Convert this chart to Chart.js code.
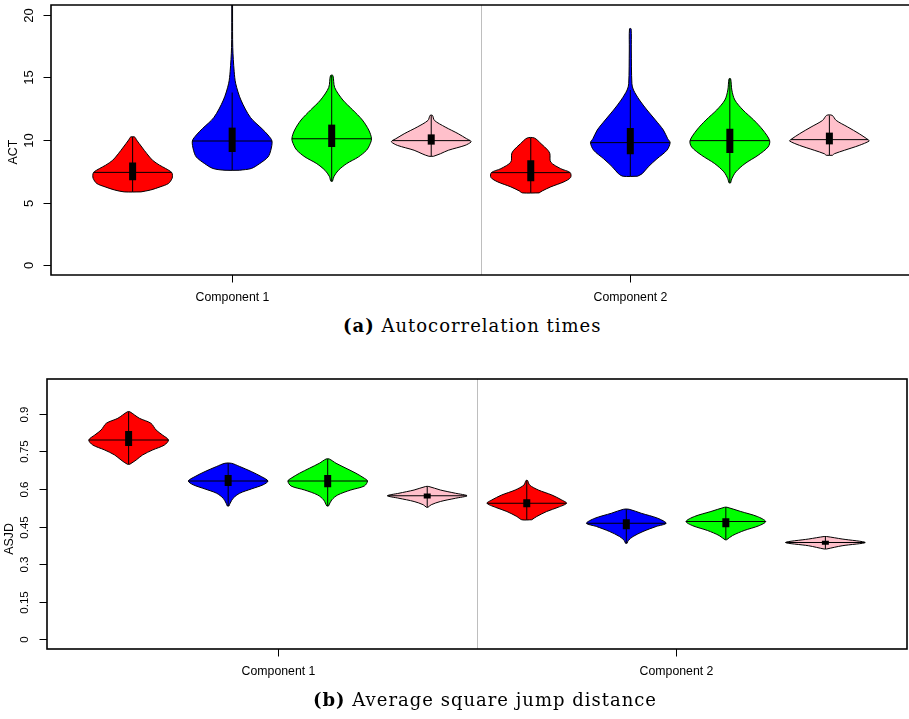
<!DOCTYPE html>
<html>
<head>
<meta charset="utf-8">
<script src="https://cdn.jsdelivr.net/npm/chart.js@4.4.1/dist/chart.umd.min.js"></script>
<style>
    html, body { margin: 0; background: #fff; overflow: hidden; }
    #page { position: relative; width: 909px; height: 719px; overflow: hidden; }
    canvas { position: absolute; left: 0; }
    #actChart { top: 0; }
    #asjdChart { top: 360px; }
    .caption { position: absolute; font-family: 'DejaVu Serif', serif; font-size: 18px; letter-spacing: 1px; color: #000; white-space: nowrap; line-height: 22px; }
    .caption b { font-weight: bold; }
</style>
</head>
<body>
<div id="page">
<canvas id="actChart" width="912" height="305"></canvas>
<canvas id="asjdChart" width="909" height="340"></canvas>
<div class="caption" style="left:343px;top:315px"><b>(a)</b> Autocorrelation times</div>
<div class="caption" style="left:313px;top:689px"><b>(b)</b> Average square jump distance</div>
</div>

<script>
// Pozycje skrzypiec i kolory (4 metody x 2 komponenty)
const violinAt = [1, 2, 3, 4, 5, 6, 7, 8];
const violinColors = ['#ff0000', '#0000ff', '#00ff00', '#ffc0cb'];
const groupLabels = ['Component 1', 'Component 2'];
const groupSplit = 4.5;

// ACT - czasy autokorelacji
const actTicks = [0, 5, 10, 15, 20];
const actGroupAt = [2, 6];
const actMedian = [7.41, 9.92, 10.1, 9.95, 7.39, 9.79, 9.95, 10.03];
const actQ1 = [6.78, 9.04, 9.44, 9.63, 6.7, 8.86, 8.96, 9.65];
const actQ3 = [8.2, 10.99, 11.23, 10.45, 8.38, 10.96, 10.9, 10.59];
const actLow = [5.85, 7.58, 6.7, 8.7, 5.77, 7.1, 6.57, 8.78];
const actHigh = [10.24, 13.8, 15.16, 11.97, 10.16, 14.0, 14.9, 11.97];
const actLevels = [
    [5.85, 6.0, 6.25, 6.52, 6.92, 7.18, 7.41, 7.72, 7.98, 8.38, 8.9, 9.44, 10.0, 10.24],
    [7.58, 7.72, 8.11, 8.64, 9.18, 9.92, 10.4, 10.9, 11.8, 13.2, 14.5, 15.5, 17.4, 20, 22],
    [6.7, 7.1, 7.58, 8.11, 8.64, 9.18, 9.58, 10.1, 10.8, 11.6, 12.4, 13.2, 14.2, 15.16],
    [8.7, 8.9, 9.18, 9.57, 9.84, 9.95, 10.1, 10.5, 11.04, 11.57, 11.97],
    [5.77, 5.93, 6.25, 6.65, 7.0, 7.39, 7.71, 8.24, 8.9, 9.18, 9.7, 10.16],
    [7.1, 7.31, 7.85, 8.5, 9.18, 9.79, 10.1, 10.8, 11.6, 12.4, 13.2, 14.0, 14.5, 17.2, 18.9],
    [6.57, 6.9, 7.45, 8.11, 8.78, 9.44, 9.95, 10.8, 11.6, 12.4, 13.2, 14.0, 14.9],
    [8.78, 8.9, 9.18, 9.57, 9.92, 10.03, 10.1, 10.5, 11.04, 11.57, 11.97]
];
const actDensity = [
    [0.21, 0.45, 0.69, 0.9, 0.99, 1.0, 0.98, 0.83, 0.68, 0.5, 0.36, 0.23, 0.1, 0.05],
    [0.18, 0.48, 0.69, 0.9, 0.97, 1.0, 0.9, 0.75, 0.46, 0.22, 0.09, 0.05, 0.015, 0.01, 0.008],
    [0.02, 0.06, 0.17, 0.375, 0.67, 0.875, 0.95, 1.0, 0.93, 0.77, 0.53, 0.28, 0.075, 0.03],
    [0.06, 0.23, 0.43, 0.85, 1.0, 0.98, 0.89, 0.68, 0.35, 0.08, 0.03],
    [0.21, 0.29, 0.5, 0.83, 1.0, 0.99, 0.75, 0.5, 0.48, 0.43, 0.26, 0.09],
    [0.18, 0.3, 0.45, 0.67, 0.92, 1.0, 0.94, 0.83, 0.63, 0.42, 0.23, 0.08, 0.04, 0.025, 0.02],
    [0.02, 0.05, 0.15, 0.38, 0.71, 0.96, 1.0, 0.83, 0.6, 0.33, 0.125, 0.05, 0.02],
    [0.08, 0.125, 0.38, 0.75, 1.0, 0.97, 0.94, 0.75, 0.46, 0.17, 0.07]
];

// ASJD - średnia kwadratowa odległość skoku
const asjdTicks = [0, 0.15, 0.3, 0.45, 0.6, 0.75, 0.9];
const asjdGroupAt = [2.5, 6.5];
const asjdMedian = [0.796, 0.632, 0.632, 0.573, 0.543, 0.463, 0.47, 0.386];
const asjdQ1 = [0.772, 0.612, 0.607, 0.562, 0.527, 0.439, 0.447, 0.377];
const asjdQ3 = [0.832, 0.656, 0.656, 0.582, 0.559, 0.479, 0.483, 0.393];
const asjdLow = [0.699, 0.532, 0.532, 0.527, 0.477, 0.383, 0.397, 0.36];
const asjdHigh = [0.909, 0.703, 0.72, 0.61, 0.634, 0.519, 0.527, 0.41];
const asjdLevels = [
    [0.699, 0.716, 0.736, 0.756, 0.776, 0.796, 0.816, 0.836, 0.863, 0.883, 0.909],
    [0.532, 0.543, 0.563, 0.583, 0.6, 0.617, 0.632, 0.65, 0.67, 0.69, 0.703],
    [0.532, 0.556, 0.576, 0.596, 0.612, 0.632, 0.643, 0.663, 0.683, 0.703, 0.72],
    [0.527, 0.537, 0.55, 0.563, 0.573, 0.583, 0.596, 0.61],
    [0.477, 0.49, 0.51, 0.527, 0.543, 0.556, 0.576, 0.596, 0.616, 0.634],
    [0.383, 0.394, 0.41, 0.43, 0.45, 0.463, 0.483, 0.503, 0.519],
    [0.397, 0.414, 0.434, 0.453, 0.47, 0.49, 0.51, 0.527],
    [0.36, 0.373, 0.386, 0.4, 0.41]
];
const asjdDensity = [
    [0.03, 0.19, 0.35, 0.6, 0.9, 1.0, 0.85, 0.69, 0.56, 0.27, 0.03],
    [0.02, 0.05, 0.125, 0.29, 0.58, 0.88, 1.0, 0.83, 0.58, 0.29, 0.08],
    [0.02, 0.1, 0.25, 0.58, 0.92, 1.0, 0.92, 0.71, 0.46, 0.21, 0.04],
    [0.02, 0.1, 0.33, 0.71, 1.0, 0.71, 0.33, 0.04],
    [0.125, 0.25, 0.5, 0.79, 1.0, 0.88, 0.63, 0.29, 0.07, 0.02],
    [0.02, 0.05, 0.17, 0.42, 0.75, 1.0, 0.79, 0.375, 0.07],
    [0.02, 0.17, 0.46, 0.83, 1.0, 0.79, 0.375, 0.03],
    [0.03, 0.42, 1.0, 0.42, 0.03]
];

const HALF = 0.4;   // pół szerokości skrzypiec w jednostkach osi x

Chart.defaults.font.family = "'Liberation Sans', Arial, sans-serif";

// szerokość profilu na danej wysokości (do linii mediany)
function widthAt(levels, dens, v) {
    for (let k = 1; k < levels.length; k++) {
        if (v <= levels[k]) {
            const t = (v - levels[k - 1]) / (levels[k] - levels[k - 1]);
            return dens[k - 1] + t * (dens[k] - dens[k - 1]);
        }
    }
    return dens[dens.length - 1];
}

function buildDatasets(levels, density, median, q1, q3, low, high) {
    const sets = [];
    violinAt.forEach((pos, i) => {
        const lv = levels[i], dn = density[i];
        const right = lv.map((v, k) => ({ x: pos + HALF * dn[k], y: v }));
        const left = lv.map((v, k) => ({ x: pos - HALF * dn[k], y: v })).reverse();
        const outline = right.concat(left, [right[0]]);
        sets.push({
            data: outline, borderColor: '#000', borderWidth: 1,
            backgroundColor: violinColors[i % 4], fill: 'shape',
            tension: 0.3, pointRadius: 0, order: 3
        });
        const w = HALF * widthAt(lv, dn, median[i]);
        sets.push({
            data: [{ x: pos - w, y: median[i] }, { x: pos + w, y: median[i] }],
            borderColor: '#000', borderWidth: 1, pointRadius: 0, fill: false, order: 2
        });
        sets.push({
            data: [{ x: pos, y: low[i] }, { x: pos, y: high[i] }],
            borderColor: '#000', borderWidth: 1, pointRadius: 0, fill: false, order: 1
        });
        sets.push({
            data: [{ x: pos, y: q1[i] }, { x: pos, y: q3[i] }],
            borderColor: '#000', borderWidth: 7, borderCapStyle: 'butt',
            pointRadius: 0, fill: false, order: 0
        });
    });
    return sets;
}

// ramka, osie i podpisy w stylu R
const frame = {
    id: 'frame',
    beforeDatasetsDraw(chart, args, o) {
        const { ctx, chartArea: a, scales } = chart;
        const xs = Math.round(scales.x.getPixelForValue(groupSplit)) + 0.5;
        ctx.save();
        ctx.strokeStyle = '#bebebe';
        ctx.lineWidth = 1;
        ctx.beginPath();
        ctx.moveTo(xs, a.top);
        ctx.lineTo(xs, a.bottom);
        ctx.stroke();
        ctx.restore();
    },
    afterDraw(chart, args, o) {
        const { ctx, chartArea: a, scales } = chart;
        ctx.save();
        ctx.strokeStyle = '#000';
        ctx.fillStyle = '#000';
        ctx.lineWidth = 1.6;
        if (o.openRight) {
            // prawa krawędź wychodzi poza okno - bez pionowej linii
            ctx.beginPath();
            ctx.moveTo(a.right + 20, a.top);
            ctx.lineTo(a.left, a.top);
            ctx.lineTo(a.left, a.bottom);
            ctx.lineTo(a.right + 20, a.bottom);
            ctx.stroke();
        } else {
            ctx.strokeRect(a.left, a.top, a.right - a.left, a.bottom - a.top);
        }

        ctx.lineWidth = 1;
        ctx.font = o.tickFont + "px 'Liberation Sans', Arial, sans-serif";
        ctx.textAlign = 'center';
        ctx.textBaseline = 'middle';
        o.ticks.forEach(t => {
            const y = Math.round(scales.y.getPixelForValue(t)) + 0.5;
            ctx.beginPath();
            ctx.moveTo(a.left - 7.5, y);
            ctx.lineTo(a.left, y);
            ctx.stroke();
            ctx.save();
            ctx.translate(a.left - 22, y);
            ctx.rotate(-Math.PI / 2);
            ctx.fillText(String(t), 0, 0);
            ctx.restore();
        });

        ctx.font = "12.3px 'Liberation Sans', Arial, sans-serif";
        o.groupAt.forEach((g, k) => {
            const x = Math.round(scales.x.getPixelForValue(g)) + 0.5;
            ctx.beginPath();
            ctx.moveTo(x, a.bottom);
            ctx.lineTo(x, a.bottom + 7.5);
            ctx.stroke();
            ctx.fillText(groupLabels[k], x, a.bottom + 23);
        });

        ctx.font = "12.4px 'Liberation Sans', Arial, sans-serif";
        ctx.translate(a.left - 37, (a.top + a.bottom) / 2 + o.titleShift);
        ctx.rotate(-Math.PI / 2);
        ctx.fillText(o.title, 0, 0);
        ctx.restore();
    }
};

function makeChart(id, datasets, yMin, yMax, axisWidth, axisHeight, padding, frameOpts) {
    return new Chart(document.getElementById(id), {
        type: 'line',
        data: { datasets: datasets },
        options: {
            responsive: false,
            animation: false,
            events: [],
            layout: { padding: padding },
            plugins: { legend: { display: false }, tooltip: { enabled: false }, frame: frameOpts },
            scales: {
                x: {
                    type: 'linear', min: 0.18, max: 8.82,
                    grid: { display: false }, border: { display: false }, ticks: { display: false },
                    afterFit: s => { s.height = axisHeight; }
                },
                y: {
                    type: 'linear', min: yMin, max: yMax,
                    grid: { display: false }, border: { display: false }, ticks: { display: false },
                    afterFit: s => { s.width = axisWidth; }
                }
            }
        },
        plugins: [frame]
    });
}

makeChart('actChart',
    buildDatasets(actLevels, actDensity, actMedian, actQ1, actQ3, actLow, actHigh),
    -0.8, 20.8, 51, 30, { top: 5, right: 1, left: 0, bottom: 0 },
    { ticks: actTicks, groupAt: actGroupAt, title: 'ACT', titleShift: 12, tickFont: 13, openRight: true });

makeChart('asjdChart',
    buildDatasets(asjdLevels, asjdDensity, asjdMedian, asjdQ1, asjdQ3, asjdLow, asjdHigh),
    -0.04, 1.04, 47, 51, { top: 19, right: 2, left: 0, bottom: 0 },
    { ticks: asjdTicks, groupAt: asjdGroupAt, title: 'ASJD', titleShift: 25, tickFont: 11.5, openRight: false });
</script>
</body>
</html>
